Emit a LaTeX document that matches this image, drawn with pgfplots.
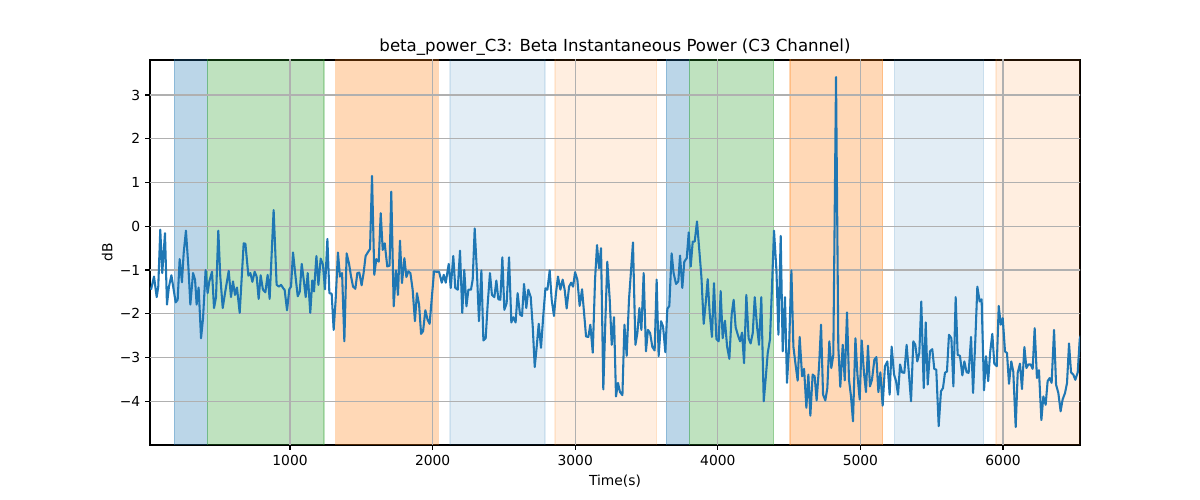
\documentclass[border=0pt]{standalone}
\usepackage{fontspec}
\setmainfont{DejaVu Sans}
\usepackage{pgfplots}
\pgfplotsset{compat=1.18}
\definecolor{tabblue}{RGB}{31,119,180}
\definecolor{tabgreen}{RGB}{44,160,44}
\definecolor{taborange}{RGB}{255,127,14}
\definecolor{gridgray}{RGB}{176,176,176}
\begin{document}
\begin{tikzpicture}
\path[use as bounding box] (-1.5in,-0.55in) rectangle (10.5in,4.45in);
\begin{axis}[
  at={(0,0)}, anchor=south west,
  scale only axis,
  width=9.3in, height=3.85in,
  xmin=18, xmax=6540, ymin=-5.0, ymax=3.8,
  xtick={1000,2000,3000,4000,5000,6000},
  xticklabels={1000,2000,3000,4000,5000,6000},
  ytick={-4,-3,-2,-1,0,1,2,3},
  yticklabels={−4,−3,−2,−1,0,1,2,3},
  axis line style={black, line width=0.8pt},
  tick style={black, line width=0.8pt},
  tick align=outside,
  major tick length=3.5pt,
  xtick pos=bottom, ytick pos=left,
  tick label style={font=\fontsize{10}{12}\selectfont},
  xlabel={Time(s)}, ylabel={dB},
  label style={font=\fontsize{10}{12}\selectfont},
  xlabel style={yshift=-0.5pt},
  ylabel style={yshift=-1.5pt},
  title={beta\_power\_C3: Beta Instantaneous Power (C3 Channel)},
  title style={font=\fontsize{12}{14}\selectfont, yshift=-6pt},
  span/.style={fill=#1, draw=#1, line width=0.8pt, fill opacity=0.3, draw opacity=0.3, forget plot},
  lspan/.style={fill=#1, draw=#1, line width=0.8pt, fill opacity=0.13, draw opacity=0.13, forget plot},
]
\addplot[span=tabblue] coordinates {(188,-6) (188,5) (420,5) (420,-6)};
\addplot[span=tabgreen] coordinates {(420,-6) (420,5) (1238,5) (1238,-6)};
\addplot[span=taborange] coordinates {(1322,-6) (1322,5) (2040,5) (2040,-6)};
\addplot[lspan=tabblue] coordinates {(2122,-6) (2122,5) (2788,5) (2788,-6)};
\addplot[lspan=taborange] coordinates {(2858,-6) (2858,5) (3571,5) (3571,-6)};
\addplot[span=tabblue] coordinates {(3637,-6) (3637,5) (3800,5) (3800,-6)};
\addplot[span=tabgreen] coordinates {(3800,-6) (3800,5) (4392,5) (4392,-6)};
\addplot[span=taborange] coordinates {(4506,-6) (4506,5) (5156,5) (5156,-6)};
\addplot[lspan=tabblue] coordinates {(5238,-6) (5238,5) (5865,5) (5865,-6)};
\addplot[lspan=taborange] coordinates {(5951,-6) (5951,5) (6600,5) (6600,-6)};
\pgfplotsinvokeforeach{1000,2000,3000,4000,5000,6000}{
  \addplot[gridgray, line width=0.8pt, forget plot] coordinates {(#1,-6) (#1,5)};
}
\pgfplotsinvokeforeach{-4,-3,-2,-1,0,1,2,3}{
  \addplot[gridgray, line width=0.8pt, forget plot] coordinates {(0,#1) (7000,#1)};
}
\addplot[tabblue, line width=1.5pt, mark=none, line join=round] coordinates {
(25,-1.45) (46,-1.15) (65,-1.62) (76,-1.38) (90,-0.08) (104,-1.07) (123,-0.16) (137,-1.79) (151,-1.38) (168,-1.12)
(184,-1.45) (198,-1.74) (212,-1.68) (226,-0.75) (242,-1.28) (254,-0.62) (270,-0.10) (287,-0.92) (301,-1.79) (320,-1.07)
(334,-1.22) (345,-1.79) (359,-1.40) (376,-2.56) (390,-2.10) (408,-1.00) (422,-1.53) (434,-1.26) (453,-1.04) (467,-1.87)
(481,-1.62) (497,-0.10) (511,-1.15) (528,-1.87) (544,-1.53) (570,-1.02) (586,-1.62) (600,-1.26) (614,-1.57) (628,-1.40)
(647,-1.98) (675,-0.39) (687,-0.40) (708,-1.13) (722,-1.07) (736,-1.27) (752,-1.04) (766,-1.15) (780,-1.66) (794,-1.12)
(810,-1.45) (827,-1.51) (843,-1.11) (857,-1.66)
(885,0.37) (906,-1.34) (923,-1.38) (937,-1.34) (953,-1.42) (962,-1.45) (979,-1.92) (995,-1.44) (1007,-1.38) (1021,-0.60)
(1040,-1.19) (1054,-1.60) (1068,-1.50) (1082,-0.86) (1096,-1.22) (1110,-1.62) (1124,-1.07) (1142,-1.98) (1156,-1.24) (1168,-1.49)
(1185,-0.68) (1199,-1.34) (1215,-0.74) (1231,-0.88) (1245,-1.44) (1262,-0.29) (1276,-1.53) (1292,-1.54) (1306,-2.37) (1320,-1.68)
(1336,-0.60) (1350,-1.15) (1365,-1.07) (1381,-2.63) (1397,-0.62) (1414,-0.86) (1428,-1.15) (1442,-1.38) (1458,-1.43) (1472,-1.07)
(1486,-1.06) (1502,-1.35) (1516,-1.07) (1530,-0.68) (1545,-0.60) (1561,-0.52) (1575,1.15) (1591,-1.11) (1605,-0.75) (1622,-0.81)
(1636,0.30) (1650,-0.54) (1664,-0.39) (1682,-0.92) (1698,-0.90)
(1710,0.79) (1727,-1.83) (1743,-1.01) (1757,-1.57) (1771,-0.33) (1785,-1.30) (1802,-0.73) (1816,-1.16) (1830,-1.03) (1844,-1.07)
(1860,-1.45) (1876,-2.17) (1890,-1.53) (1905,-1.79) (1919,-2.46) (1933,-2.40) (1949,-1.92) (1965,-2.14) (1979,-2.23) (2010,-1.03)
(2024,-1.04) (2045,-1.04) (2064,-1.29) (2078,-1.11) (2092,-1.29) (2113,-0.86) (2127,-1.41) (2145,-0.68) (2159,-1.41) (2176,-1.45)
(2192,-0.56) (2208,-1.98) (2222,-1.00) (2237,-1.83) (2251,-1.45) (2269,-1.45) (2281,-1.22) (2295,-0.05) (2311,-1.07) (2325,-2.17)
(2342,-1.01) (2356,-2.61) (2372,-2.56) (2386,-1.79) (2402,-1.07) (2416,-1.57) (2433,-1.62) (2447,-1.24) (2461,-1.67) (2475,-1.68)
(2489,-0.71) (2503,-1.91) (2519,-1.76) (2536,-0.71)
(2552,-2.20) (2566,-2.08) (2582,-2.20) (2596,-1.53) (2613,-2.02) (2627,-2.05) (2641,-1.32) (2657,-1.87) (2671,-1.45) (2688,-1.62)
(2702,-2.29) (2716,-3.22) (2730,-2.75) (2744,-2.23) (2760,-2.78) (2777,-2.00) (2791,-1.42) (2805,-1.45) (2821,-1.01) (2835,-1.68)
(2851,-2.05) (2865,-1.53) (2879,-1.15) (2896,-1.45) (2912,-1.22) (2926,-1.45) (2940,-1.88) (2957,-1.38) (2971,-1.29) (2985,-1.38)
(2999,-1.05) (3015,-1.22) (3031,-1.82) (3048,-1.44) (3062,-1.98) (3076,-2.52) (3092,-2.53) (3106,-2.25) (3123,-2.89) (3139,-1.22)
(3153,-0.43) (3167,-0.96) (3181,-0.50) (3197,-3.73) (3211,-2.21) (3225,-0.81) (3242,-1.68) (3256,-2.71) (3272,-2.08) (3286,-3.89)
(3300,-3.58) (3314,-3.79) (3331,-3.86) (3345,-2.25) (3361,-2.96) (3377,-1.68)
(3391,-1.03) (3405,-0.37) (3422,-2.71) (3436,-2.44) (3450,-1.87) (3464,-2.37) (3480,-1.07) (3496,-2.86) (3510,-2.37) (3525,-2.44)
(3541,-2.76) (3557,-2.84) (3571,-1.22) (3585,-2.97) (3602,-2.17) (3616,-2.29) (3632,-2.88) (3646,-1.89) (3660,-1.82) (3676,-0.62)
(3690,-1.07) (3707,-1.32) (3723,-1.26) (3735,-0.67) (3751,-1.41) (3765,-0.81) (3782,-0.73) (3796,-0.14) (3810,-0.92) (3824,-0.35)
(3838,-0.35) (3854,0.11) (3868,-0.46) (3885,-1.16) (3901,-2.23) (3915,-1.76) (3929,-1.21) (3943,-1.98) (3959,-2.53) (3973,-1.30)
(3990,-2.58) (4006,-2.63) (4020,-1.48) (4034,-2.56) (4050,-2.16) (4065,-2.75) (4081,-3.03) (4097,-2.02) (4111,-1.68) (4125,-2.31)
(4142,-2.50) (4156,-2.63) (4170,-2.43) (4184,-3.13) (4200,-1.57) (4216,-2.56)
(4230,-2.68) (4245,-2.44) (4259,-1.62) (4275,-2.29) (4289,-2.71) (4305,-1.62) (4322,-4.00) (4336,-3.47) (4350,-2.90) (4366,-2.58)
(4380,-1.38) (4394,-0.10) (4411,-1.00) (4425,-2.48) (4441,-0.22) (4455,-2.86) (4471,-1.62) (4485,-3.58) (4499,-2.82) (4516,-1.01)
(4530,-2.75) (4544,-3.13) (4560,-3.53) (4574,-2.53) (4591,-3.43) (4605,-3.26) (4621,-4.15) (4635,-3.39) (4649,-4.33) (4665,-3.39)
(4679,-3.43) (4693,-3.98) (4710,-3.20) (4724,-2.25) (4738,-3.85) (4754,-3.98) (4768,-3.70) (4782,-2.63) (4796,-3.24) (4810,-2.94)
(4829,3.41) (4845,-2.75) (4859,-3.67) (4876,-2.71) (4890,-3.52) (4906,-1.97) (4920,-3.51) (4934,-3.89) (4948,-4.46) (4965,-2.56)
(4979,-3.39) (4995,-3.96) (5009,-2.61) (5025,-3.35) (5039,-3.79) (5053,-2.73) (5067,-3.66)
(5081,-3.51) (5098,-3.05) (5112,-2.99) (5126,-3.79) (5140,-3.34) (5156,-4.10) (5172,-3.20) (5189,-3.09) (5205,-3.85) (5219,-2.75)
(5236,-3.39) (5250,-3.54) (5264,-3.85) (5278,-3.16) (5292,-3.34) (5308,-3.35) (5324,-2.71) (5338,-3.28) (5355,-4.00) (5371,-2.63)
(5385,-2.71) (5399,-3.09) (5413,-2.90) (5427,-1.72) (5444,-3.70) (5458,-2.20) (5472,-3.62) (5488,-2.86) (5504,-2.81) (5518,-3.26)
(5532,-3.28) (5549,-4.57) (5565,-3.77) (5579,-3.70) (5593,-3.35) (5607,-3.32) (5621,-2.48) (5638,-2.56) (5652,-3.66) (5668,-1.62)
(5682,-2.94) (5698,-2.96) (5715,-3.41) (5729,-3.09) (5745,-3.34) (5759,-3.35) (5776,-2.53) (5790,-3.81) (5806,-2.59) (5820,-1.38)
(5836,-1.72) (5850,-1.67) (5867,-3.75) (5881,-2.97) (5896,-3.54) (5910,-2.88)
(5925,-2.46) (5939,-3.14) (5956,-3.20) (5970,-1.82) (5984,-2.25) (5998,-2.10) (6014,-2.86) (6028,-2.90) (6042,-3.60) (6058,-3.09)
(6072,-3.32) (6089,-4.59) (6103,-3.35) (6119,-3.14) (6133,-3.72) (6150,-2.76) (6164,-3.24) (6178,-3.16) (6194,-3.16) (6208,-3.26)
(6222,-2.33) (6238,-3.47) (6252,-3.29) (6269,-4.43) (6283,-3.89) (6299,-4.08) (6313,-3.54) (6327,-3.47) (6341,-3.58) (6358,-2.37)
(6372,-3.62) (6388,-3.81) (6404,-4.23) (6418,-3.96) (6435,-3.81) (6449,-3.58) (6463,-2.68) (6477,-3.34) (6493,-3.39) (6507,-3.51)
(6524,-3.34) (6538,-2.58) (6545,-2.50)
};
\end{axis}
\end{tikzpicture}
\end{document}
